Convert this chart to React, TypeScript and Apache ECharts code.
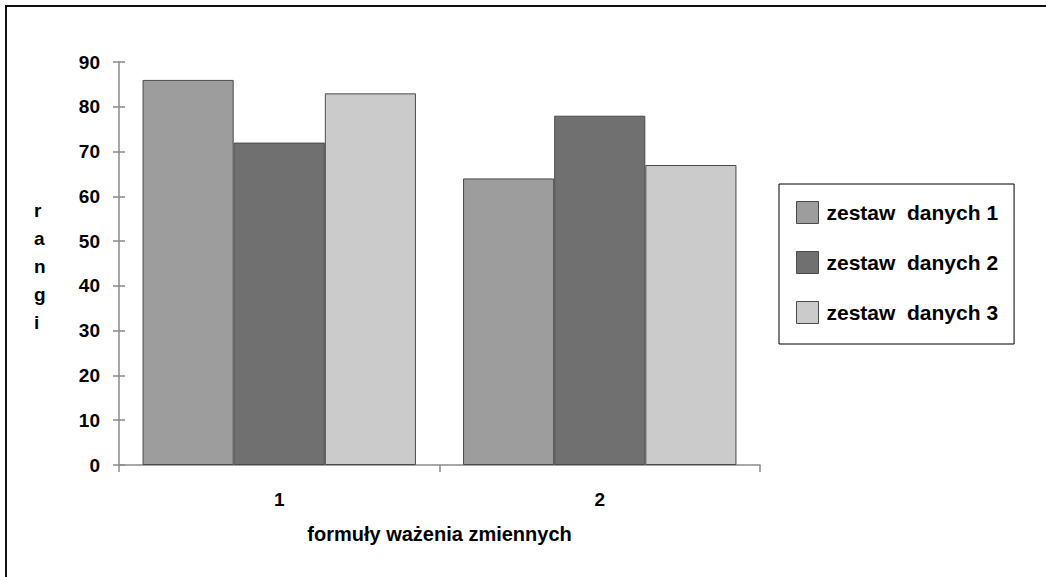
import React, { useEffect, useRef } from "react";
import * as echarts from "echarts";

const categories = ["1", "2"];
const seriesNames = ["zestaw  danych 1", "zestaw  danych 2", "zestaw  danych 3"];
const set1 = [86, 64];
const set2 = [72, 78];
const set3 = [83, 67];
const yTicks = { min: 0, max: 90, interval: 10 };
const xTitle = "formuły ważenia zmiennych";
const yTitle = "r\na\nn\ng\ni";

const fills = ["#9d9d9d", "#707070", "#cbcbcb"];
const FONT = "Liberation Sans, Arial, sans-serif";

export default function App() {
  const ref = useRef<HTMLDivElement>(null);

  useEffect(() => {
    if (!ref.current) return;
    const chart = echarts.init(ref.current, undefined, { renderer: "svg" });
    const values = [set1, set2, set3];
    const labelFont = { fontFamily: FONT, fontSize: 19, fontWeight: "bold", color: "#000" };
    chart.setOption({
      animation: false,
      backgroundColor: "#ffffff",
      textStyle: { fontFamily: FONT },
      grid: { left: 119, right: 286, top: 62, bottom: 112 },
      legend: {
        orient: "vertical",
        left: 779,
        top: 184,
        borderColor: "#000",
        borderWidth: 1,
        padding: [17, 16, 20, 17],
        icon: "rect",
        itemWidth: 22,
        itemHeight: 22,
        itemGap: 27,
        textStyle: { ...labelFont, fontSize: 21, padding: [0, 0, 0, 3] },
        data: seriesNames.map((name, i) => ({
          name,
          itemStyle: { color: fills[i], borderColor: "#4a4a4a", borderWidth: 1 },
        })),
      },
      xAxis: {
        type: "category",
        data: categories,
        name: xTitle,
        nameLocation: "middle",
        nameGap: 59,
        nameTextStyle: { ...labelFont, fontSize: 20 },
        axisLine: { lineStyle: { color: "#8a8a8a", width: 1.5 } },
        axisTick: { show: true, length: 7, lineStyle: { color: "#8a8a8a", width: 1.5 } },
        axisLabel: { ...labelFont, margin: 25 },
        splitLine: { show: false },
      },
      yAxis: [
        {
          type: "value",
          min: yTicks.min,
          max: yTicks.max,
          interval: yTicks.interval,
          axisLine: { show: true, lineStyle: { color: "#8a8a8a", width: 1.5 } },
          axisTick: { show: true, length: 6, lineStyle: { color: "#8a8a8a", width: 1.5 } },
          axisLabel: { ...labelFont, margin: 19 },
          splitLine: { show: false },
        },
        {
          type: "value",
          position: "left",
          min: yTicks.min,
          max: yTicks.max,
          interval: yTicks.interval,
          axisLine: { show: false },
          axisTick: { show: true, inside: true, length: 6, lineStyle: { color: "#8a8a8a", width: 1.5 } },
          axisLabel: { show: false },
          splitLine: { show: false },
        },
      ],
      series: seriesNames.map((name, i) => ({
        name,
        type: "bar",
        data: values[i],
        barGap: "0%",
        barCategoryGap: "14.7%",
        itemStyle: { color: fills[i], borderColor: "#4a4a4a", borderWidth: 1 },
      })),
      graphic: [
        {
          type: "text",
          left: 34,
          top: 196,
          style: {
            text: yTitle,
            font: `bold 19px ${FONT}`,
            lineHeight: 28,
            fill: "#000",
            align: "center",
          },
        },
        {
          type: "polyline",
          shape: { points: [[6, 577], [6, 6], [1046, 6]] },
          style: { stroke: "#111", lineWidth: 2, fill: "none" },
        },
      ],
    });
    return () => chart.dispose();
  }, []);

  return (
    <div
      ref={ref}
      style={{ position: "fixed", left: 0, top: 0, width: 1046, height: 577, background: "#fff" }}
    />
  );
}
